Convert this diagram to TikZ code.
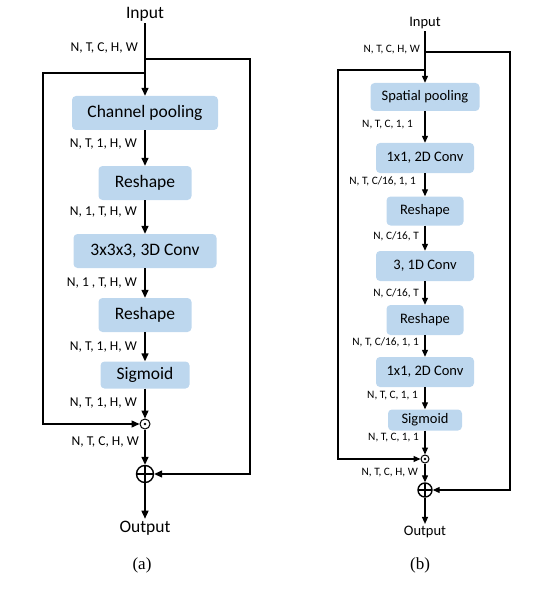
\documentclass[tikz,border=0pt]{standalone}
\usepackage{fontspec}
\setmainfont{Carlito}
\newfontfamily\capfont{Liberation Serif}
\usetikzlibrary{arrows.meta}
\definecolor{boxBlue}{HTML}{BDD7EE}

\begin{document}
\begin{tikzpicture}[x=1pt,y=-1pt,
  blk/.style={fill=boxBlue, rounded corners=4pt, inner sep=0pt,
    minimum height=34pt, font=\fontsize{17.5}{20}\selectfont},
  blkb/.style={blk, minimum height=29pt, font=\fontsize{14.5}{17}\selectfont},
  dim/.style={anchor=east, inner sep=0pt, font=\fontsize{13.5}{16}\selectfont},
  dimb/.style={dim, font=\fontsize{11.3}{13}\selectfont},
  io/.style={inner sep=2pt, font=\fontsize{17.5}{20}\selectfont},
  iob/.style={inner sep=2pt, font=\fontsize{14.5}{17}\selectfont},
  arr/.style={line width=1.4pt, -{Triangle[length=8pt,width=7pt]}},
  arrb/.style={line width=1.2pt, -{Triangle[length=7pt,width=6pt]}},
  mulnode/.style={circle, draw, line width=1pt, inner sep=0pt, minimum size=#1,
    path picture={\fill (path picture bounding box.center) circle (1.3pt);}},
  addnode/.style={circle, draw, line width=1.4pt, inner sep=0pt, minimum size=#1,
    path picture={\draw[line width=1.4pt]
      (path picture bounding box.north) -- (path picture bounding box.south)
      (path picture bounding box.west) -- (path picture bounding box.east);}}
]
\useasboundingbox (0,0) rectangle (535,604);

% (a) les blocs
\node[io] (ain) at (145,14) {Input};
\node[blk, minimum width=146pt] (apool) at (145,113) {Channel pooling};
\node[blk, minimum width=93pt] (ares1) at (145,183) {Reshape};
\node[blk, minimum width=143pt] (aconv) at (145,251) {3x3x3, 3D Conv};
\node[blk, minimum width=93pt] (ares2) at (145,315) {Reshape};
\node[blk, minimum width=89pt, minimum height=27pt] (asig) at (145,375) {Sigmoid};
\node[mulnode=10pt] (amul) at (145,424) {};
\node[addnode=17pt] (aadd) at (145,474) {};
\node[io] (aout) at (145,528) {Output};
\node[font=\capfont\fontsize{17}{20}\selectfont] (acap) at (142,565) {(a)};

% (a) les dimensions
\node[dim] (ad0) at (138,48) {N, T, C, H, W};
\node[dim] (ad1) at (137,144) {N, T, 1, H, W};
\node[dim] (ad2) at (137,212) {N, 1, T, H, W};
\node[dim] (ad3) at (137,283) {N, 1 , T, H, W};
\node[dim] (ad4) at (137,347) {N, T, 1, H, W};
\node[dim] (ad5) at (137,403) {N, T, 1, H, W};
\node[dim] (ad6) at (139,442) {N, T, C, H, W};

% (a) les fleches
\coordinate (aR) at (145,59);
\coordinate (aL) at (145,73);
\draw[arr] (ain) -- (apool);
\draw[arr] (apool) -- (ares1);
\draw[arr] (ares1) -- (aconv);
\draw[arr] (aconv) -- (ares2);
\draw[arr] (ares2) -- (asig);
\draw[arr] (asig) -- (amul);
\draw[arr] (amul) -- (aadd);
\draw[arr] (aadd) -- (aout);
\draw[arr] (aR) -- (250,59) |- (aadd);
\draw[arr] (aL) -- (43,73) |- (amul);

% (b) les blocs
\node[iob] (bin) at (425,23) {Input};
\node[blkb, minimum width=109pt, minimum height=28pt] (bpool) at (425,97) {Spatial pooling};
\node[blkb, minimum width=98pt, minimum height=30pt] (bfc1) at (425,158) {1x1, 2D Conv};
\node[blkb, minimum width=77pt] (bres1) at (425,211) {Reshape};
\node[blkb, minimum width=98pt, minimum height=30pt] (bconv) at (425,266) {3, 1D Conv};
\node[blkb, minimum width=77pt, minimum height=30pt] (bres2) at (425,320) {Reshape};
\node[blkb, minimum width=98pt, minimum height=30pt] (bfc2) at (425,372) {1x1, 2D Conv};
\node[blkb, minimum width=74pt, minimum height=21pt] (bsig) at (425,420) {Sigmoid};
\node[mulnode=8pt] (bmul) at (425,459) {};
\node[addnode=14pt] (badd) at (425,490) {};
\node[iob] (bout) at (425,532) {Output};
\node[font=\capfont\fontsize{17}{20}\selectfont] (bcap) at (420,565) {(b)};

% (b) les dimensions
\node[dimb] (bd0) at (420,50) {N, T, C, H, W};
\node[dimb] (bd1) at (413,125) {N, T, C, 1, 1};
\node[dimb] (bd2) at (416,181) {N, T, C/16, 1, 1};
\node[dimb] (bd3) at (419,236) {N, C/16, T};
\node[dimb] (bd4) at (419,293) {N, C/16, T};
\node[dimb] (bd5) at (419,342) {N, T, C/16, 1, 1};
\node[dimb] (bd6) at (418,396) {N, T, C, 1, 1};
\node[dimb] (bd7) at (419,438) {N, T, C, 1, 1};
\node[dimb] (bd8) at (418,473) {N, T, C, H, W};

% (b) les fleches
\coordinate (bR) at (425,52);
\coordinate (bL) at (425,70);
\draw[arrb] (bin) -- (bpool);
\draw[arrb] (bpool) -- (bfc1);
\draw[arrb] (bfc1) -- (bres1);
\draw[arrb] (bres1) -- (bconv);
\draw[arrb] (bconv) -- (bres2);
\draw[arrb] (bres2) -- (bfc2);
\draw[arrb] (bfc2) -- (bsig);
\draw[arrb] (bsig) -- (bmul);
\draw[arrb] (bmul) -- (badd);
\draw[arrb] (badd) -- (bout);
\draw[arrb] (bR) -- (510,52) |- (badd);
\draw[arrb] (bL) -- (338,70) |- (bmul);

\end{tikzpicture}
\end{document}
